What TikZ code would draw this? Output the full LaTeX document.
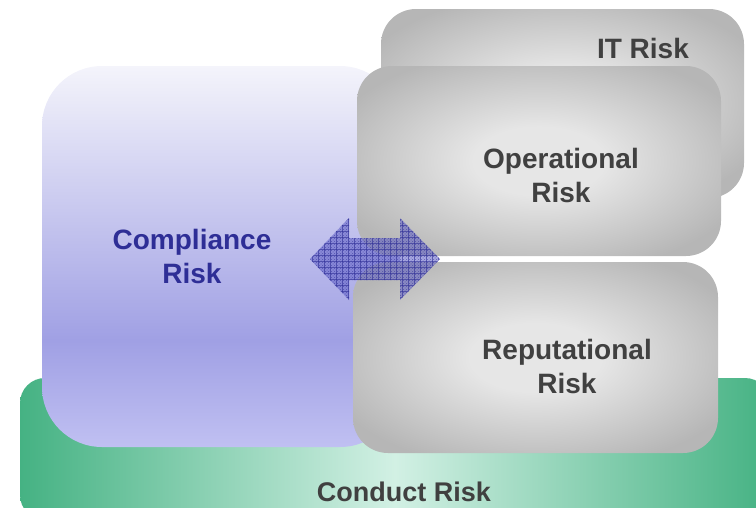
\documentclass[tikz,border=0pt]{standalone}
\usepackage{fontspec}
\setmainfont{Liberation Sans}
\usetikzlibrary{positioning}
\usetikzlibrary{patterns,patterns.meta}
\definecolor{lavtop}{HTML}{F4F4FB}
\definecolor{lavmid}{HTML}{A0A0E4}
\definecolor{lavbot}{HTML}{C0C0F2}
\definecolor{greenedge}{HTML}{45B283}
\definecolor{greenmid}{HTML}{D2F0E4}
\definecolor{grayin}{HTML}{E6E6E6}
\definecolor{grayout}{HTML}{B6B6B6}
\definecolor{compblue}{HTML}{2E2E96}
\definecolor{labelgray}{HTML}{404040}
\definecolor{arrowblue}{HTML}{6060C8}
\pgfdeclareverticalshading{compshade}{100bp}{color(0bp)=(lavbot); color(25bp)=(lavbot); color(39bp)=(lavmid); color(75bp)=(lavtop); color(100bp)=(lavtop)}
\pgfdeclareradialshading{grayshade}{\pgfpoint{0bp}{0bp}}{color(0bp)=(grayin); color(9bp)=(grayin); color(30bp)=(grayout); color(50bp)=(grayout)}
\tikzdeclarepattern{name=arrow grid, type=uncolored,
  bottom left={(-.5pt,-.5pt)}, top right={(6.5pt,6.5pt)}, tile size={(6pt,6pt)},
  code={\draw[line width=0.7pt] (0pt,0pt) -- (6pt,0pt) (0pt,0pt) -- (0pt,6pt);}}
\tikzset{risk box/.style={rectangle, inner sep=0pt, rounded corners=35pt, shading=grayshade},
  risk text/.style={align=center, inner sep=0pt, font=\bfseries\fontsize{28}{34}\selectfont, text=labelgray},}

\begin{document}
\begin{tikzpicture}[x=1pt,y=-1pt]
  \useasboundingbox (0,0) rectangle (756,507);
  \clip (0,0) rectangle (756,507);

  % base layer
  \node[rectangle, inner sep=0pt, rounded corners=25pt, minimum width=750pt, minimum height=142pt,
        left color=greenedge, right color=greenedge, middle color=greenmid] (conduct) at (395,449) {};
  \node[rectangle, inner sep=0pt, rounded corners=60pt, minimum width=358pt, minimum height=381pt,
        shading=compshade] (compliance) at (221,256.5) {};

  % stacked grey boxes
  \node[risk box, minimum width=363pt, minimum height=189pt] (it) at (562.5,103.5) {};
  \node[risk box, minimum width=364pt, minimum height=190pt] (oper) at (539,161) {};
  \node[risk box, minimum width=365pt, minimum height=191pt] (repu) at (535.5,357.5) {};

  % two-way arrow
  \fill[arrowblue, fill opacity=0.55]
    (310,259) -- (349,218) -- (349,238) -- (400,238) -- (400,218) -- (440,259)
    -- (400,300) -- (400,280) -- (349,280) -- (349,300) -- cycle;
  \fill[pattern=crosshatch dots, pattern color=compblue, opacity=0.6]
    (310,259) -- (349,218) -- (349,238) -- (400,238) -- (400,218) -- (440,259)
    -- (400,300) -- (400,280) -- (349,280) -- (349,300) -- cycle;
  \fill[pattern=arrow grid, pattern color=compblue, opacity=0.6]
    (310,259) -- (349,218) -- (349,238) -- (400,238) -- (400,218) -- (440,259)
    -- (400,300) -- (400,280) -- (349,280) -- (349,300) -- cycle;

  % labels
  \node[risk text, text=compblue] (comptext) at (192,256) {Compliance\\Risk};
  \node[risk text] (ittext) at (643,48) {IT Risk};
  \node[risk text] (opertext) at (561,175) {Operational\\Risk};
  \node[risk text] (reputext) at (567,366) {Reputational\\Risk};
  \node[risk text, font=\bfseries\fontsize{27}{32}\selectfont] (conducttext) at (404,492) {Conduct Risk};
\end{tikzpicture}
\end{document}
